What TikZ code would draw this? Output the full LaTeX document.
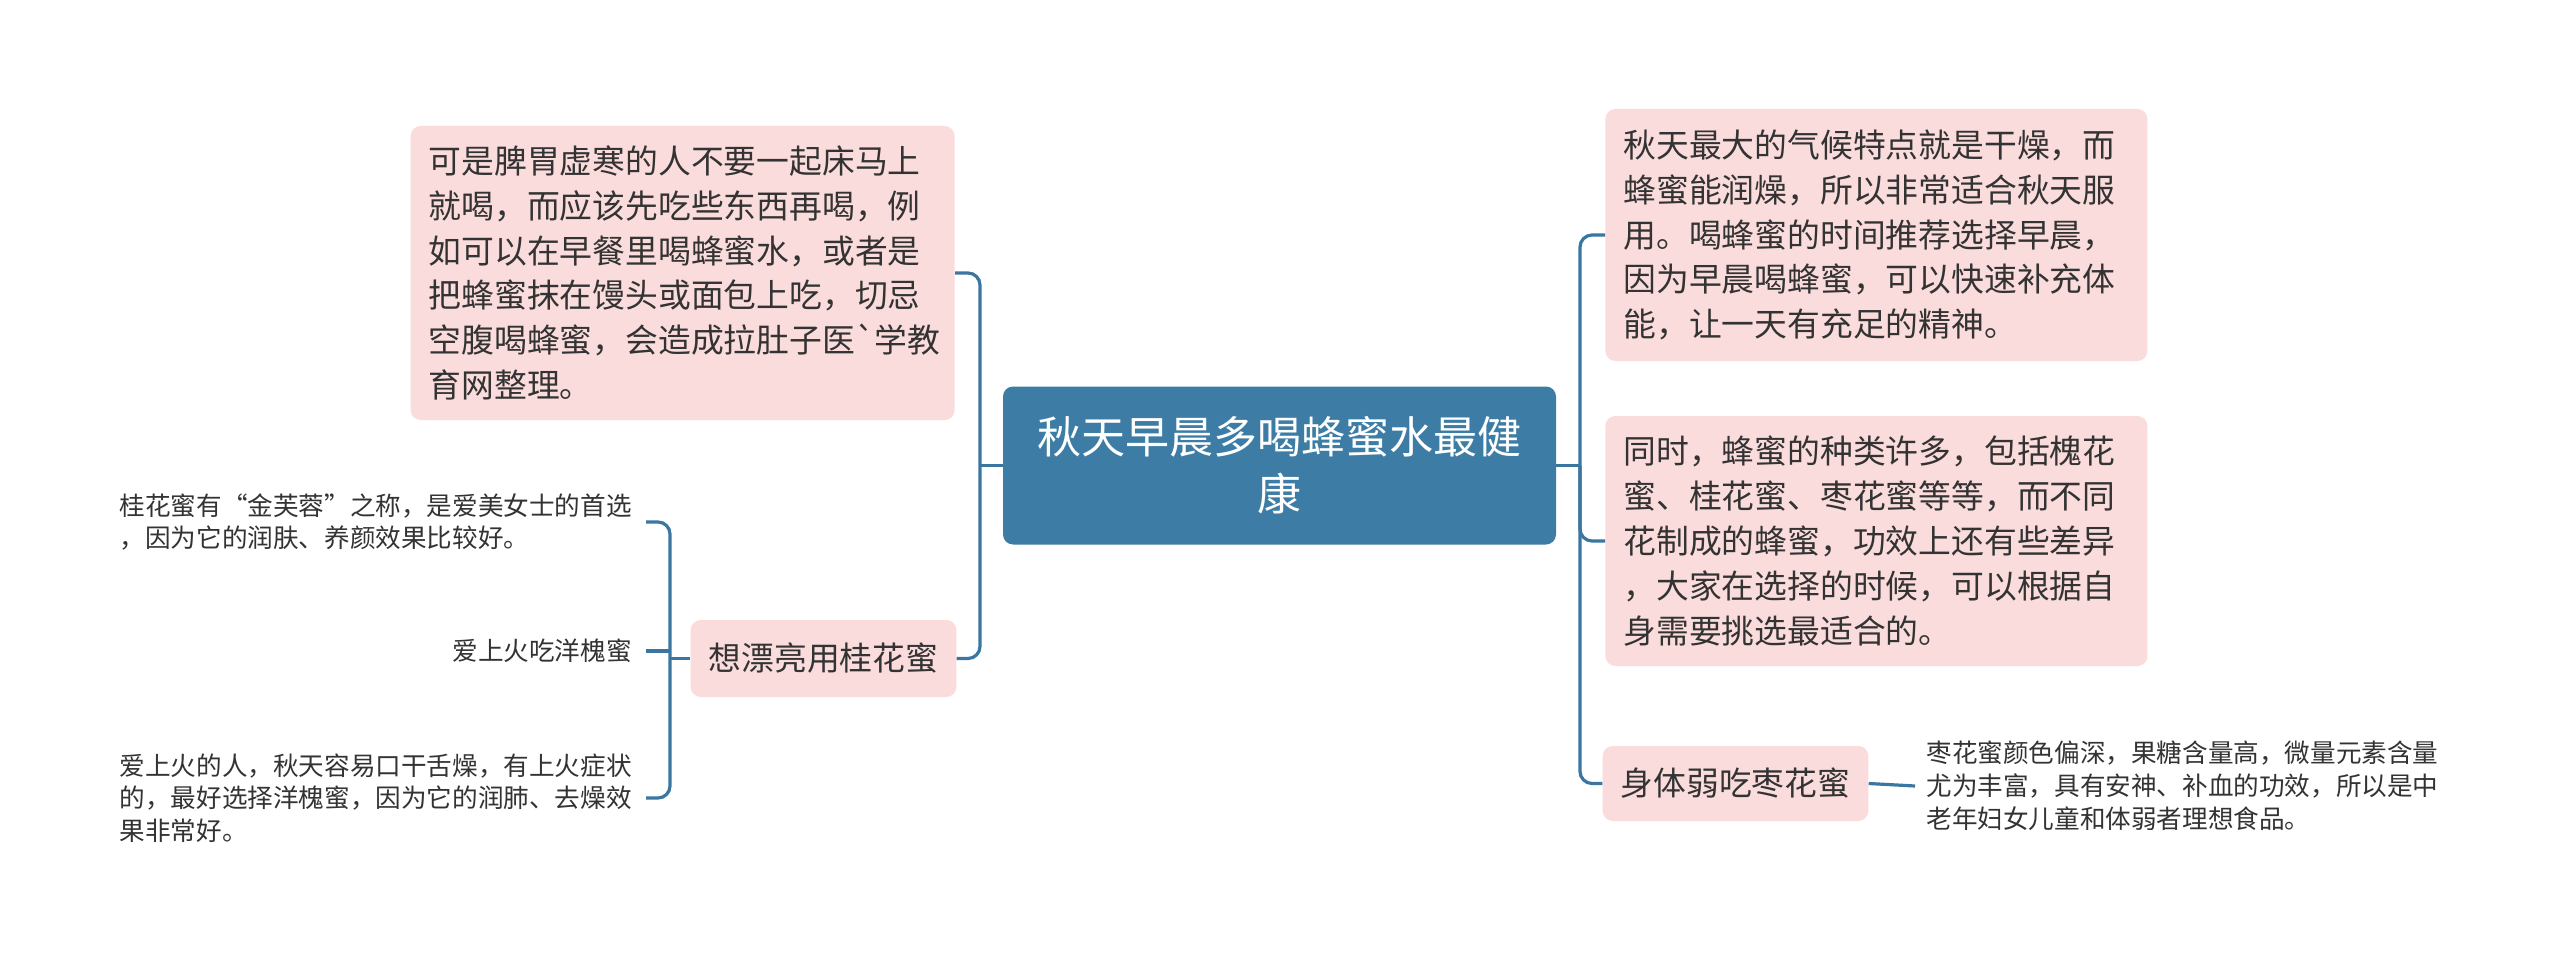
\documentclass[tikz,border=0pt]{standalone}
\usepackage{fontspec}
\setmainfont{Noto Sans CJK SC}
\newfontfamily\gravefont{Noto Sans CJK SC}

\definecolor{topicblue}{HTML}{3D7DA5}
\definecolor{linkblue}{HTML}{3A76A0}
\definecolor{notepink}{HTML}{FBDCDC}
\definecolor{inkgray}{HTML}{333333}

\tikzset{
  topic/.style={fill=topicblue, text=white, rounded corners=5pt, align=center,
    minimum width=276.5pt, minimum height=79pt, font=\fontsize{22}{28.6}\selectfont},
  notebox/.style={fill=notepink, text=inkgray, rounded corners=5pt, align=left,
    inner xsep=9pt, font=\fontsize{16.4}{22.4}\selectfont},
  leaf/.style={text=inkgray, align=left, inner xsep=7pt,
    font=\fontsize{12.8}{16.4}\selectfont},
  link/.style={draw=linkblue, line width=1.6pt, rounded corners=6pt},
}

\begin{document}
\begin{tikzpicture}[x=0.5pt,y=-0.5pt]

    % canvas of the picture
    \fill[white] (0,0) rectangle (2560,968);
    \useasboundingbox (0,0) rectangle (2560,968);

    % central topic
    \node[topic] (ctr) at (1279.5,465.5) {秋天早晨多喝蜂蜜水最健\\康};

    % left side
    \node[notebox, text width=254pt, minimum height=147pt, anchor=east] (lt) at (955,273)
      {可是脾胃虚寒的人不要一起床马上\\就喝，而应该先吃些东西再喝，例\\如可以在早餐里喝蜂蜜水，或者是\\把蜂蜜抹在馒头或面包上吃，切忌\\空腹喝蜂蜜，会造成拉肚子医{\gravefont`}学教\\育网整理。};
    \node[notebox, align=center, minimum width=131.5pt, minimum height=38.5pt] (gh) at (823.5,658.5)
      {想漂亮用桂花蜜};

    \node[leaf, anchor=east] (l1) at (646,522)
      {桂花蜜有“金芙蓉”之称，是爱美女士的首选\\，因为它的润肤、养颜效果比较好。};
    \node[leaf, anchor=east] (l2) at (646,651) {爱上火吃洋槐蜜};
    \node[leaf, anchor=east] (l3) at (646,798)
      {爱上火的人，秋天容易口干舌燥，有上火症状\\的，最好选择洋槐蜜，因为它的润肺、去燥效\\果非常好。};

    % right side
    \node[notebox, text width=253pt, minimum height=126pt, anchor=west] (rt) at (1605,235)
      {秋天最大的气候特点就是干燥，而\\蜂蜜能润燥，所以非常适合秋天服\\用。喝蜂蜜的时间推荐选择早晨，\\因为早晨喝蜂蜜，可以快速补充体\\能，让一天有充足的精神。};
    \node[notebox, text width=253pt, minimum height=125pt, anchor=west] (rm) at (1605,541)
      {同时，蜂蜜的种类许多，包括槐花\\蜜、桂花蜜、枣花蜜等等，而不同\\花制成的蜂蜜，功效上还有些差异\\，大家在选择的时候，可以根据自\\身需要挑选最适合的。};
    \node[notebox, align=center, minimum width=130.5pt, minimum height=37.5pt] (rb) at (1735.5,783.5)
      {身体弱吃枣花蜜};

    \node[leaf, anchor=west, inner xsep=5.5pt] (rl) at (1915,786)
      {枣花蜜颜色偏深，果糖含量高，微量元素含量\\尤为丰富，具有安神、补血的功效，所以是中\\老年妇女儿童和体弱者理想食品。};

    % junctions
    \coordinate (jl) at (980,465.5);
    \coordinate (jr) at (1580,465.5);
    \coordinate (jg) at (670,658.5);

    % connectors
    \draw[link] (ctr.west) -- (jl);
    \draw[link] (lt.east) -| (jl) |- (gh.east);
    \draw[link] (ctr.east) -- (jr);
    \draw[link] (rt.west) -| (jr) |- (rb.west);
    \draw[link] (jr) |- (rm.west);
    \draw[link] (rb.east) -- (rl.west);

    \draw[link] (gh.west) -- (jg);
    \draw[link] (l1.east) -| (jg) |- (l3.east);
    \draw[link] (l2.east) -- (l2.east -| jg);

\end{tikzpicture}
\end{document}
